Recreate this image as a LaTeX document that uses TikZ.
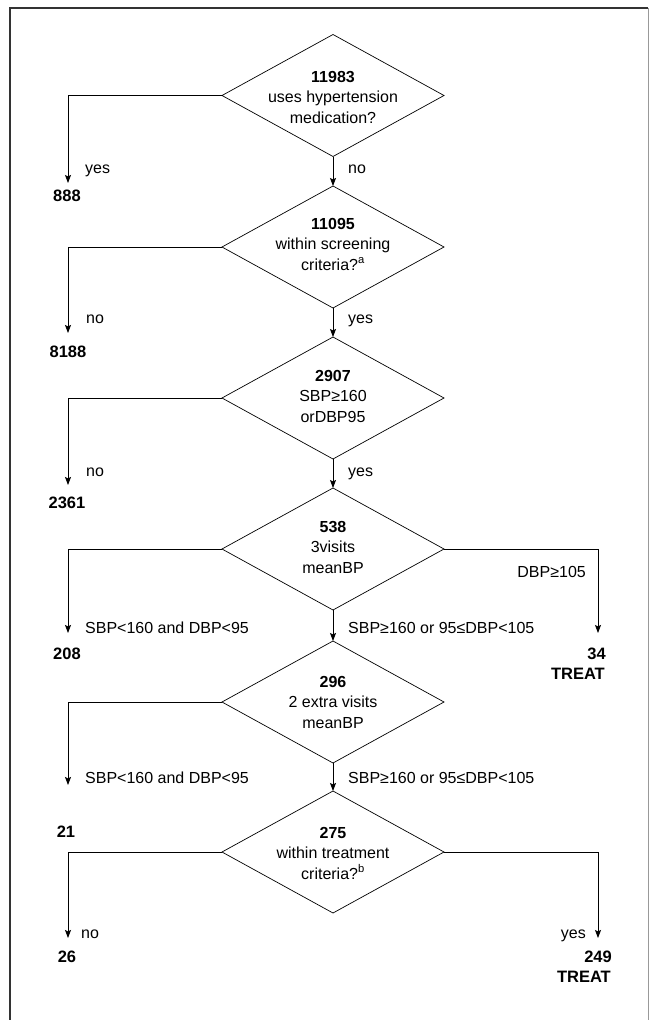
\documentclass[tikz,border=0pt]{standalone}
\usepackage{fontspec}
\setmainfont{Liberation Sans}
\usetikzlibrary{shapes.geometric,arrows.meta}
\begin{document}
\begin{tikzpicture}[x=1pt,y=-1pt,
  dia/.style={draw, shape=diamond, minimum width=222pt, minimum height=122pt, inner sep=0pt, outer sep=0pt, line width=0.7pt},
  dtext/.style={align=center, inner sep=0pt, font=\fontsize{16}{20.5}\selectfont},
  lab/.style={inner sep=0pt, font=\fontsize{16}{19}\selectfont},
  num/.style={inner sep=0pt, font=\fontsize{16.5}{20}\selectfont\bfseries},
  arr/.style={draw, line width=0.8pt, -{Stealth[length=8pt,width=6pt,inset=1.5pt]}}]
\useasboundingbox (0,0) rectangle (649,1020);
% frame
\draw[line width=1.3pt, black!80] (10,1020) -- (10,8) -- (648,8);
\draw[line width=1pt, black!40] (648,8) -- (648,1020);
% diamonds
\node[dia] (d1) at (333,95.5) {};
\node[dia] (d2) at (333,247) {};
\node[dia] (d3) at (333,398) {};
\node[dia] (d4) at (333,549) {};
\node[dia] (d5) at (333,702) {};
\node[dia] (d6) at (333,852) {};
\node[dtext] (d1t) at (333,97) {\textbf{11983}\\uses hypertension\\medication?};
\node[dtext] (d2t) at (333,244) {\textbf{11095}\\within screening\\criteria?\textsuperscript{a}};
\node[dtext] (d3t) at (333,396) {\textbf{2907}\\SBP≥160\\orDBP95};
\node[dtext] (d4t) at (333,547) {\textbf{538}\\3visits\\meanBP};
\node[dtext] (d5t) at (333,702) {\textbf{296}\\2 extra visits\\meanBP};
\node[dtext] (d6t) at (333,853) {\textbf{275}\\within treatment\\criteria?\textsuperscript{b}};
% arrow ends
\coordinate (t1) at (68,183);
\coordinate (t2) at (68,333);
\coordinate (t3) at (68,485);
\coordinate (t4) at (68,633);
\coordinate (t4r) at (598,633);
\coordinate (t5) at (68,785);
\coordinate (t6) at (68,938);
\coordinate (t6r) at (598,938);
% connectors
\draw[arr] (d1.south) -- (d2.north);
\draw[arr] (d2.south) -- (d3.north);
\draw[arr] (d3.south) -- (d4.north);
\draw[arr] (d4.south) -- (d5.north);
\draw[arr] (d5.south) -- (d6.north);
\draw[arr] (d1.west) -| (t1);
\draw[arr] (d2.west) -| (t2);
\draw[arr] (d3.west) -| (t3);
\draw[arr] (d4.west) -| (t4);
\draw[arr] (d5.west) -| (t5);
\draw[arr] (d6.west) -| (t6);
\draw[arr] (d4.east) -| (t4r);
\draw[arr] (d6.east) -| (t6r);
% branch labels
\node[lab, anchor=base west] (l1a) at (85,173) {yes};
\node[lab, anchor=base west] (l1b) at (348,173) {no};
\node[lab, anchor=base west] (l2a) at (86,323) {no};
\node[lab, anchor=base west] (l2b) at (348,323) {yes};
\node[lab, anchor=base west] (l3a) at (86,476) {no};
\node[lab, anchor=base west] (l3b) at (348,476) {yes};
\node[lab, anchor=base east] (l4r) at (586,577) {DBP≥105};
\node[lab, anchor=base west] (l4a) at (85,633) {SBP<160 and DBP<95};
\node[lab, anchor=base west] (l4b) at (348,633) {SBP≥160 or 95≤DBP<105};
\node[lab, anchor=base west] (l5a) at (85,783) {SBP<160 and DBP<95};
\node[lab, anchor=base west] (l5b) at (348,783) {SBP≥160 or 95≤DBP<105};
\node[lab, anchor=base west] (l6a) at (81,938) {no};
\node[lab, anchor=base east] (l6b) at (586,938) {yes};
% outcome numbers
\node[num, anchor=base] (n1) at (67,201) {888};
\node[num, anchor=base] (n2) at (68,357) {8188};
\node[num, anchor=base] (n3) at (67,508) {2361};
\node[num, anchor=base] (n4) at (67,659) {208};
\node[num, anchor=base east] (n4r) at (606,659) {34};
\node[num, anchor=base east] (n4rt) at (605,679) {TREAT};
\node[num, anchor=base] (n5) at (66,837) {21};
\node[num, anchor=base] (n6) at (67,962) {26};
\node[num, anchor=base east] (n6r) at (612,962) {249};
\node[num, anchor=base east] (n6rt) at (611,982) {TREAT};
\end{tikzpicture}
\end{document}
